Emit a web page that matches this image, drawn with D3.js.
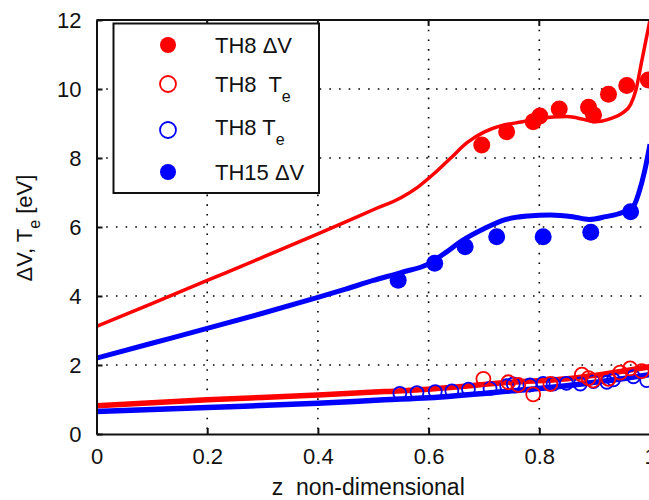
<!DOCTYPE html>
<html>
<head>
<meta charset="utf-8">
<script src="https://cdn.jsdelivr.net/npm/d3@7"></script>
<style>
  body { margin: 0; background: #fff; }
  svg { display: block; font-family: "Liberation Sans", Arial, sans-serif; }
</style>
</head>
<body>
<svg class="chart" width="649" height="500"></svg>
<script>
// simulated curves
let th8_dv_line = [[0,3.12],[0.1,3.78],[0.2,4.45],[0.3,5.12],[0.4,5.8],[0.5,6.5],[0.55,6.85],[0.58,7.15],[0.61,7.55],[0.64,8.0],[0.67,8.45],[0.7,8.75],[0.73,8.93],[0.77,9.05],[0.8,9.15],[0.85,9.2],[0.88,9.12],[0.9,9.05],[0.93,9.15],[0.95,9.3],[0.965,9.55],[0.975,10.0],[0.985,10.8],[1.0,12.0]];
let th15_dv_line = [[0,2.2],[0.1,2.63],[0.2,3.06],[0.3,3.5],[0.4,3.96],[0.45,4.2],[0.5,4.45],[0.55,4.68],[0.6,4.93],[0.63,5.25],[0.66,5.6],[0.7,5.95],[0.74,6.22],[0.78,6.32],[0.82,6.35],[0.86,6.3],[0.89,6.22],[0.92,6.3],[0.95,6.42],[0.97,6.6],[0.98,7.0],[0.99,7.6],[1.0,8.4]];
let th8_te_line = [[0,0.82],[0.2,0.99],[0.4,1.13],[0.52,1.23],[0.6,1.3],[0.75,1.5],[0.85,1.6],[0.9,1.7],[0.95,1.82],[1.0,1.95]];
let th15_te_line = [[0,0.65],[0.2,0.77],[0.4,0.89],[0.52,0.99],[0.6,1.05],[0.75,1.25],[0.85,1.4],[0.9,1.5],[0.95,1.6],[1.0,1.72]];

// measured points
let th8_dv_pts = [[0.696,8.38],[0.741,8.76],[0.789,9.05],[0.801,9.22],[0.836,9.42],[0.889,9.47],[0.898,9.25],[0.925,9.85],[0.958,10.1],[0.997,10.26]];
let th15_dv_pts = [[0.545,4.46],[0.611,4.95],[0.666,5.43],[0.723,5.72],[0.807,5.72],[0.893,5.85],[0.965,6.44]];
let th8_te_pts = [[0.699,1.6],[0.744,1.5],[0.762,1.42],[0.789,1.15],[0.82,1.45],[0.877,1.72],[0.889,1.62],[0.897,1.55],[0.925,1.6],[0.946,1.78],[0.964,1.9],[0.985,1.82]];
let th15_te_pts = [[0.548,1.18],[0.579,1.2],[0.612,1.23],[0.642,1.25],[0.672,1.3],[0.711,1.32],[0.741,1.4],[0.753,1.45],[0.783,1.42],[0.807,1.47],[0.825,1.45],[0.849,1.47],[0.874,1.45],[0.898,1.52],[0.922,1.5],[0.934,1.57],[0.970,1.66],[0.994,1.55]];

let x_ticks = [0, 0.2, 0.4, 0.6, 0.8, 1];
let y_ticks = [0, 2, 4, 6, 8, 10, 12];

let legend_items = [
    {name: "TH8 ", sym: "\u0394V", sub: "", color: "red", filled: true},
    {name: "TH8  ", sym: "T", sub: "e", color: "red", filled: false},
    {name: "TH8 ", sym: "T", sub: "e", color: "blue", filled: false},
    {name: "TH15 ", sym: "\u0394V", sub: "", color: "blue", filled: true}
];

let svg = d3.select("svg.chart");

let x = d3.scaleLinear().domain([0, 1]).range([96.5, 650]);
let y = d3.scaleLinear().domain([0, 12]).range([434, 20]);

svg.append("defs").append("clipPath").attr("id", "plot_clip")
    .append("rect")
    .attr("x", x(0)).attr("y", y(12))
    .attr("width", x(1) - x(0)).attr("height", y(0) - y(12));

/* dotted grid */
let grid = svg.append("g").attr("class", "grid")
    .attr("stroke", "#000").attr("stroke-width", 1.6)
    .attr("stroke-dasharray", "1.6,8.1").attr("stroke-linecap", "butt");

grid.selectAll("line.gx").data(x_ticks.slice(1, -1)).enter().append("line")
    .attr("class", "gx")
    .attr("x1", d => x(d)).attr("x2", d => x(d))
    .attr("y1", y(12)).attr("y2", y(0));

grid.selectAll("line.gy").data(y_ticks.slice(1, -1)).enter().append("line")
    .attr("class", "gy")
    .attr("x1", x(0)).attr("x2", x(1))
    .attr("y1", d => y(d)).attr("y2", d => y(d));

/* curves */
let line = d3.line()
    .x(d => x(d[0]))
    .y(d => y(d[1]))
    .curve(d3.curveMonotoneX);

let plot = svg.append("g").attr("clip-path", "url(#plot_clip)");

plot.append("path").datum(th8_te_line)
    .attr("fill", "none").attr("stroke", "red").attr("stroke-width", 5.5)
    .attr("d", line);
plot.append("path").datum(th15_te_line)
    .attr("fill", "none").attr("stroke", "blue").attr("stroke-width", 5.5)
    .attr("d", line);
plot.append("path").datum(th8_dv_line)
    .attr("fill", "none").attr("stroke", "red").attr("stroke-width", 3.5)
    .attr("d", line);
plot.append("path").datum(th15_dv_line)
    .attr("fill", "none").attr("stroke", "blue").attr("stroke-width", 5)
    .attr("d", line);

/* markers */
function add_points(data, color, filled, r){
    plot.append("g").selectAll("circle").data(data).enter().append("circle")
        .attr("cx", d => x(d[0]))
        .attr("cy", d => y(d[1]))
        .attr("r", r)
        .attr("fill", filled ? color : "none")
        .attr("stroke", color)
        .attr("stroke-width", filled ? 0 : 1.8);
}
add_points(th15_te_pts, "blue", false, 6.5);
add_points(th8_te_pts, "red", false, 7);
add_points(th8_dv_pts, "red", true, 8.5);
add_points(th15_dv_pts, "blue", true, 8.5);

/* axes */
let x_axis = d3.axisBottom(x).tickValues(x_ticks).tickSizeInner(-6).tickSizeOuter(0)
    .tickPadding(14).tickFormat(d3.format("~g"));
let y_axis = d3.axisLeft(y).tickValues(y_ticks).tickSizeInner(-6).tickSizeOuter(0)
    .tickPadding(15);

let gx = svg.append("g").attr("transform", "translate(0," + y(0) + ")").call(x_axis);
let gy = svg.append("g").attr("transform", "translate(" + x(0) + ",0)").call(y_axis);

[gx, gy].forEach(function(g){
    g.select(".domain").attr("stroke", "#111").attr("stroke-width", 2);
    g.selectAll(".tick line").attr("stroke", "#111").attr("stroke-width", 2);
    g.selectAll(".tick text").attr("fill", "#111")
        .style("font-size", "22px").style("font-family", "'Liberation Sans', Arial, sans-serif");
});
gx.selectAll(".tick text").attr("dy", "0.71em");

// box top
svg.append("line")
    .attr("x1", x(0)).attr("x2", x(1))
    .attr("y1", y(12)).attr("y2", y(12))
    .attr("stroke", "#111").attr("stroke-width", 2);
svg.append("g").selectAll("line").data(x_ticks.slice(1, -1)).enter().append("line")
    .attr("x1", d => x(d)).attr("x2", d => x(d))
    .attr("y1", y(12)).attr("y2", y(12) + 6)
    .attr("stroke", "#111").attr("stroke-width", 2);

/* axis labels */
svg.append("text")
    .attr("x", (x(0) + x(1)) / 2 - 5)
    .attr("y", 495)
    .attr("text-anchor", "middle")
    .attr("fill", "#111")
    .style("font-size", "23px")
    .style("white-space", "pre")
    .text("z  non-dimensional");

let ylab = svg.append("text")
    .attr("transform", "translate(32,228) rotate(-90)")
    .attr("text-anchor", "middle")
    .attr("fill", "#111")
    .style("font-size", "22px")
    .style("white-space", "pre");
ylab.append("tspan").text("\u0394V, T");
ylab.append("tspan").attr("dy", 8).style("font-size", "16px").text("e");
ylab.append("tspan").attr("dy", -8).text(" [eV]");

/* legend */
let legend = svg.append("g").attr("class", "legend");
legend.append("rect")
    .attr("x", 113.5).attr("y", 23.5)
    .attr("width", 205.5).attr("height", 169.5)
    .attr("fill", "#fff").attr("stroke", "#111").attr("stroke-width", 2);

let row_y = [45, 84, 130, 172];
let rows = legend.selectAll("g.row").data(legend_items).enter().append("g")
    .attr("class", "row")
    .attr("transform", (d, i) => "translate(0," + row_y[i] + ")");

rows.append("circle")
    .attr("cx", 168).attr("cy", 0).attr("r", 8)
    .attr("fill", d => d.filled ? d.color : "none")
    .attr("stroke", d => d.color)
    .attr("stroke-width", d => d.filled ? 0 : 1.8);

let lt = rows.append("text")
    .attr("x", 215)
    .attr("y", (d, i) => i === 2 ? 5 : 8)
    .attr("fill", "#111")
    .style("font-size", "22px")
    .style("white-space", "pre");
lt.append("tspan").text(d => d.name + d.sym);
lt.append("tspan").attr("dy", 10).style("font-size", "16px").text(d => d.sub);
</script>
</body>
</html>
